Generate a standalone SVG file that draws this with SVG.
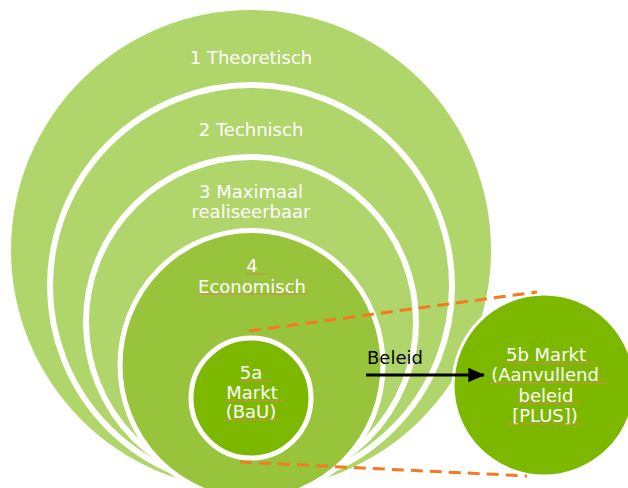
<svg xmlns="http://www.w3.org/2000/svg" width="628" height="488" viewBox="0 0 628 488">
<style>
.t{font-family:"DejaVu Sans","Liberation Sans",sans-serif;font-size:18px;fill:#ffffff;text-anchor:middle}
.lbl{font-family:"DejaVu Sans","Liberation Sans",sans-serif;font-size:18px;fill:#000000}
.ring{stroke:#ffffff;stroke-width:6}
.light{fill:#B0D56A}
.mid{fill:#97C43A}
.dark{fill:#7CB800}
.ul{stroke:#D08A55;stroke-width:1}
.dash{fill:none;stroke:#F47A20;stroke-width:3;stroke-dasharray:12 7}
</style>
<defs>
<marker id="ah" markerWidth="5.5" markerHeight="4.8" refX="5.2" refY="2.4" orient="auto" markerUnits="strokeWidth">
<path d="M0,0 L5.5,2.4 L0,4.8 Z" fill="#000000"/>
</marker>
</defs>
<rect width="628" height="488" fill="#ffffff"/>
<g id="n1">
<circle class="light" cx="251" cy="250" r="240"/>
<text class="t" x="251" y="64">1 Theoretisch</text>
</g>
<g id="n2">
<circle class="light ring" cx="251" cy="286" r="201"/>
<text class="t" x="251" y="136">2 Technisch</text>
</g>
<g id="n3">
<circle class="light ring" cx="251" cy="322" r="165"/>
<text class="t" x="251" y="198">3 Maximaal</text>
<text class="t" x="251" y="218">realiseerbaar</text>
</g>
<g id="n4">
<ellipse class="mid" cx="251.5" cy="365" rx="131.5" ry="134.5" stroke="#ffffff" stroke-width="5"/>
<text class="t" x="252" y="272">4</text>
<text class="t" x="252" y="293">Economisch</text>
<line class="ul" x1="246" y1="274" x2="265" y2="274"/>
<line class="ul" x1="197" y1="294" x2="307" y2="294"/>
</g>
<g id="n5b">
<circle class="dark" cx="544" cy="385" r="91" stroke="#ffffff" stroke-width="3"/>
<text class="t" x="546" y="361">5b Markt</text>
<text class="t" x="545" y="381">(Aanvullend</text>
<text class="t" x="546" y="402">beleid</text>
<text class="t" x="545" y="422">[PLUS])</text>
<line class="ul" x1="503" y1="363" x2="595" y2="363"/>
<line class="ul" x1="489" y1="383" x2="608" y2="383"/>
<line class="ul" x1="517" y1="403" x2="580" y2="403"/>
<line class="ul" x1="508" y1="424" x2="582" y2="424"/>
</g>
<g id="connectors">
<line class="dash" x1="249" y1="331" x2="537" y2="292"/>
<line class="dash" x1="240" y1="462" x2="527" y2="476"/>
</g>
<g id="n5a">
<circle class="dark" cx="251" cy="398" r="60" stroke="#ffffff" stroke-width="5"/>
<text class="t" x="251" y="379">5a</text>
<text class="t" x="252" y="399">Markt</text>
<text class="t" x="251" y="418">(BaU)</text>
<line class="ul" x1="240" y1="381" x2="270" y2="381"/>
<line class="ul" x1="225" y1="401" x2="285" y2="401"/>
<line class="ul" x1="224" y1="420" x2="280" y2="420"/>
</g>
<g id="arrow">
<line x1="366" y1="375" x2="484" y2="375" stroke="#000000" stroke-width="3" marker-end="url(#ah)"/>
<text class="lbl" x="367" y="364">Beleid</text>
</g>
</svg>
